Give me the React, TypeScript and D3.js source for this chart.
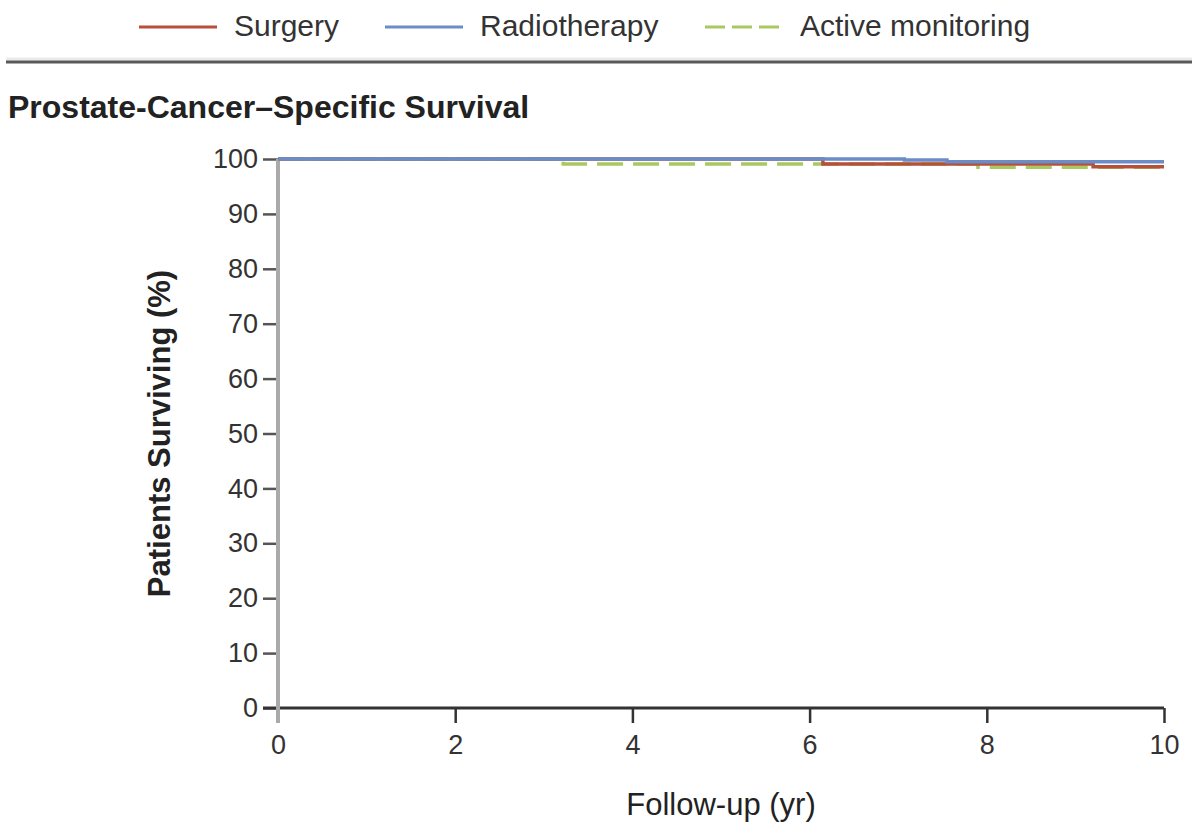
import React, { useEffect, useRef } from "react";
import * as d3 from "d3";

const years = [0, 2, 4, 6, 8, 10];
const yTicks = [0, 10, 20, 30, 40, 50, 60, 70, 80, 90, 100];

// Kaplan-Meier style step points [year, % surviving]
const surgeryYears = [0, 6.15, 9.2, 10];
const surgeryValues = [100, 99.1, 98.6, 98.6];
const radioYears = [0, 7.07, 7.55, 10];
const radioValues = [100, 99.8, 99.5, 99.5];
const activeYears = [0, 3.22, 7.9, 10];
const activeValues = [100, 99.1, 98.5, 98.5];

const seriesNames = ["Surgery", "Radiotherapy", "Active monitoring"];
const colors = ["#b5503a", "#6b8cc7", "#a9c860"];

const W = 1198;
const H = 827;
const FONT = "'Liberation Sans', Arial, sans-serif";

export default function App() {
  const xAxisRef = useRef<SVGGElement>(null);
  const yAxisRef = useRef<SVGGElement>(null);

  const x = d3.scaleLinear().domain([0, 10]).range([278, 1164]);
  const y = d3.scaleLinear().domain([0, 100]).range([708, 159]);

  useEffect(() => {
    const xa = d3.select(xAxisRef.current!);
    xa.call(d3.axisBottom(x).tickValues(years).tickSize(15).tickPadding(12).tickFormat(d3.format("d")) as any);
    xa.select(".domain").remove();
    xa.selectAll(".tick line").attr("stroke", "#333").attr("stroke-width", 2.5);
    xa.selectAll(".tick text")
      .attr("fill", "#333")
      .style("font-family", FONT)
      .style("font-size", "27px");

    const ya = d3.select(yAxisRef.current!);
    ya.call(d3.axisLeft(y).tickValues(yTicks).tickSize(15).tickPadding(5).tickFormat(d3.format("d")) as any);
    ya.select(".domain").remove();
    ya.selectAll(".tick line").attr("stroke", "#555").attr("stroke-width", 2.5);
    ya.selectAll(".tick text")
      .attr("fill", "#333")
      .style("font-family", FONT)
      .style("font-size", "27px");
  }, []);

  const line = d3
    .line<[number, number]>()
    .x((d) => x(d[0]))
    .y((d) => y(d[1]))
    .curve(d3.curveStepAfter);

  const zip = (a: number[], b: number[]) => a.map((v, i) => [v, b[i]] as [number, number]);
  const active = zip(activeYears, activeValues);
  const surgery = zip(surgeryYears, surgeryValues);
  const radio = zip(radioYears, radioValues);

  const legendItems = [
    { name: seriesNames[0], color: colors[0], x0: 139, dash: undefined as string | undefined },
    { name: seriesNames[1], color: colors[1], x0: 385, dash: undefined },
    { name: seriesNames[2], color: colors[2], x0: 705, dash: "20,7" },
  ];

  return (
    <svg
      width={W}
      height={H}
      style={{ position: "absolute", left: 0, top: 0, background: "#fff" }}
    >
      {/* legend */}
      {legendItems.map((it) => (
        <g key={it.name}>
          <line
            x1={it.x0}
            x2={it.x0 + 78}
            y1={27}
            y2={27}
            stroke={it.color}
            strokeWidth={3}
            strokeDasharray={it.dash}
          />
          <text x={it.x0 + 95} y={36} fontFamily={FONT} fontSize={30} fill="#333">
            {it.name}
          </text>
        </g>
      ))}

      {/* separator rule */}
      <line x1={6} x2={1192} y1={59} y2={59} stroke="#ebebeb" strokeWidth={3} />
      <line x1={6} x2={1192} y1={62} y2={62} stroke="#58595b" strokeWidth={3} />

      {/* title */}
      <text x={8} y={118} fontFamily={FONT} fontSize={32} fontWeight="bold" fill="#222">
        Prostate-Cancer–Specific Survival
      </text>

      {/* axes */}
      <g ref={yAxisRef} transform={`translate(${x(0)},0)`} />
      <g ref={xAxisRef} transform={`translate(0,${y(0)})`} />
      <line x1={263} x2={x(10)} y1={y(0)} y2={y(0)} stroke="#333" strokeWidth={3} />
      <line x1={x(0)} x2={x(0)} y1={y(100)} y2={723} stroke="#aaa" strokeWidth={4} />

      {/* curves */}
      <path d={line(active) || ""} fill="none" stroke={colors[2]} strokeWidth={3.5} strokeDasharray="26,10" />
      <path d={line(surgery) || ""} fill="none" stroke={colors[0]} strokeWidth={3.5} />
      <path d={line(radio) || ""} fill="none" stroke={colors[1]} strokeWidth={3.5} />

      {/* axis titles */}
      <text
        x={x(5)}
        y={815}
        textAnchor="middle"
        fontFamily={FONT}
        fontSize={31}
        fill="#222"
      >
        Follow-up (yr)
      </text>
      <text
        transform={`translate(170,${y(50)}) rotate(-90)`}
        textAnchor="middle"
        fontFamily={FONT}
        fontSize={31}
        fontWeight="bold"
        fill="#222"
      >
        Patients Surviving (%)
      </text>
    </svg>
  );
}
